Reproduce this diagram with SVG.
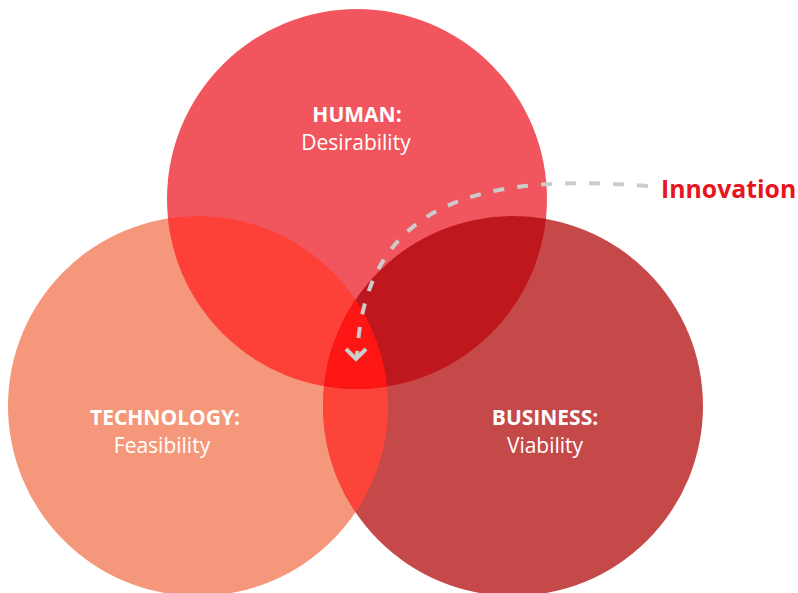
<svg xmlns="http://www.w3.org/2000/svg" width="798" height="593" viewBox="0 0 798 593">
  <style>
    .lbl { font-family: "Open Sans", "Noto Sans", "Liberation Sans", sans-serif; fill: #ffffff; text-anchor: middle; font-size: 21px; }
    .b { font-weight: 700; }
    .conn { fill: none; stroke: #cccccc; stroke-width: 4; }
  </style>
  <defs>
    <clipPath id="cH"><circle cx="357" cy="199" r="190"/></clipPath>
    <clipPath id="cT"><circle cx="198" cy="406" r="190"/></clipPath>
    <clipPath id="cB"><circle cx="513" cy="406" r="190"/></clipPath>
  </defs>
  <rect width="798" height="593" fill="#ffffff"/>

  <g id="technology">
    <circle cx="198" cy="406" r="190" fill="#F5977A"/>
  </g>
  <g id="business">
    <circle cx="513" cy="406" r="190" fill="#C6494A"/>
  </g>
  <g id="human">
    <circle cx="357" cy="199" r="190" fill="#F1565E"/>
  </g>
  <g id="overlaps">
    <g clip-path="url(#cT)"><circle cx="513" cy="406" r="190" fill="#FC4438"/></g>
    <g clip-path="url(#cH)"><circle cx="198" cy="406" r="190" fill="#FD4139"/></g>
    <g clip-path="url(#cH)"><circle cx="513" cy="406" r="190" fill="#BE171D"/></g>
    <g clip-path="url(#cH)"><g clip-path="url(#cT)"><circle cx="513" cy="406" r="190" fill="#FE1614"/></g></g>
  </g>

  <g id="human-label">
    <text class="lbl b" x="357" y="122">HUMAN:</text>
    <text class="lbl" x="356" y="150">Desirability</text>
  </g>
  <g id="technology-label">
    <text class="lbl b" x="165" y="425" font-size="21.5">TECHNOLOGY:</text>
    <text class="lbl" x="162" y="453">Feasibility</text>
  </g>
  <g id="business-label">
    <text class="lbl b" x="545" y="425">BUSINESS:</text>
    <text class="lbl" x="545" y="453">Viability</text>
  </g>

  <g id="connectors">
    <path class="conn" d="M 648 186 C 500 175, 365 190, 357 356" stroke-dasharray="11 13"/>
    <polyline class="conn" points="346,349 356,359 366,349"/>
  </g>
  <g id="innovation">
    <text x="661" y="198" font-family="'Open Sans', 'Noto Sans', 'Liberation Sans', sans-serif" font-weight="700" font-size="24.8" fill="#E8141E">Innovation</text>
  </g>
</svg>
